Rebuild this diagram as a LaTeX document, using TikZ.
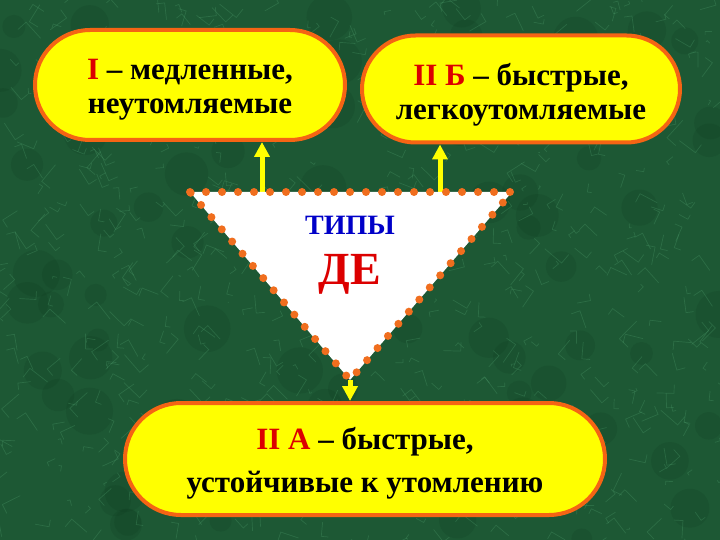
\documentclass[tikz,border=0pt]{standalone}
\usepackage{fontspec}
\setmainfont{Liberation Serif}
\usetikzlibrary{shapes.misc,arrows.meta}
\definecolor{bggreen}{RGB}{29,88,52}
\definecolor{vein}{RGB}{80,160,110}
\definecolor{darkvein}{RGB}{15,60,32}
\definecolor{boxorange}{RGB}{245,100,20}
\definecolor{dotorange}{RGB}{240,110,30}
\definecolor{boxyellow}{RGB}{255,255,0}
\definecolor{labred}{RGB}{220,0,0}
\definecolor{labblue}{RGB}{0,0,200}
\tikzset{
  pill/.style={rounded rectangle, draw=boxorange, line width=4pt, fill=boxyellow,
    inner sep=0pt},
  pilltext/.style={align=center, inner sep=0pt, font=\fontsize{31}{34}\selectfont\bfseries},
  uparrow/.style={draw=boxyellow, line width=5pt,
    -{Triangle[width=15pt,length=15pt,fill=boxyellow]}},
  tri/.style={fill=white, draw=dotorange, line width=8pt, line cap=round,
    dash pattern=on 0pt off 16pt},
}
\begin{document}
\begin{tikzpicture}[x=1pt,y=-1pt]
\useasboundingbox (0,0) rectangle (720,540);
\fill[bggreen] (0,0) rectangle (720,540);
% marble texture
\pgfmathsetseed{7}
\begin{scope}
\clip (0,0) rectangle (720,540);
\foreach \i in {1,...,90}{
  \pgfmathsetmacro{\xa}{720*rnd}
  \pgfmathsetmacro{\ya}{540*rnd}
  \fill[darkvein, opacity=0.2] (\xa,\ya) circle (10+14*rnd);
}
\foreach \i in {1,...,700}{
  \pgfmathsetmacro{\xa}{720*rnd}
  \pgfmathsetmacro{\ya}{540*rnd}
  \pgfmathsetmacro{\dx}{18*rand}
  \pgfmathsetmacro{\dy}{18*rand}
  \draw[vein, opacity=0.3, line width=0.7pt] (\xa,\ya) -- ++(\dx,\dy) -- ++(\dy*0.5,-\dx*0.5);
}
\end{scope}
% triangle anchors
\coordinate (tl) at (190,192);
\coordinate (tr) at (512,192);
\coordinate (tb) at (350,380);
\coordinate (a1) at (262,192);
\coordinate (a2) at (440,192);
% boxes
\node[pill, minimum width=310pt, minimum height=110pt] (b1) at (190,85) {};
\node[pilltext] (l1) at (190,90)
  {\textcolor{labred}{I} – медленные,\\неутомляемые};
\node[pill, minimum width=318pt, minimum height=107pt] (b2) at (521,89) {};
\node[pilltext] (l2) at (521,95)
  {\textcolor{labred}{II Б} – быстрые,\\легкоутомляемые};
\node[pill, minimum width=480pt, minimum height=112pt] (b3) at (365,459) {};
\node[pilltext, font=\fontsize{31}{43}\selectfont\bfseries] (l3) at (365,463)
  {\textcolor{labred}{II А} – быстрые,\\устойчивые к утомлению};
% arrows
\draw[uparrow] (a1) -- (a1 |- b1.south);
\draw[uparrow] (a2) -- (a2 |- b2.south);
\draw[uparrow] (tb) -- (tb |- b3.north);
% triangle
\draw[tri] (tl) -- (tr) -- (tb) -- cycle;
\node[font=\fontsize{28}{30}\selectfont\bfseries, text=labblue] (t1) at (350,225) {ТИПЫ};
\node[font=\fontsize{46}{48}\selectfont\bfseries, text=labred] (t2) at (350,274) {ДЕ};
\end{tikzpicture}
\end{document}
